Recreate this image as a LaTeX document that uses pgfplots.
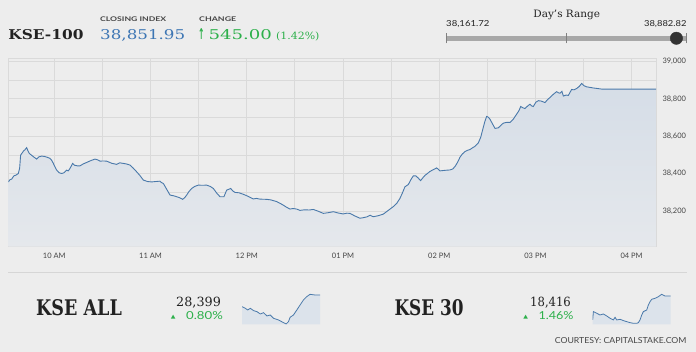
\documentclass[border=0pt]{standalone}
\usepackage{fontspec}
\usepackage{graphicx}
\usepackage{pgfplots}
\usepackage{pgfplotstable}
\pgfplotsset{compat=1.18}
\setmainfont{DejaVu Serif}
\newfontfamily\lato{Lato}
\newfontfamily\djs{DejaVu Sans}
\definecolor{bgc}{HTML}{EDEDED}
\definecolor{gridc}{HTML}{DADADA}
\definecolor{linec}{HTML}{4A79AA}
\definecolor{fillt}{HTML}{D5DDE7}
\definecolor{fillb}{HTML}{E5E8EC}
\definecolor{sparkf}{HTML}{DCE3EB}
\definecolor{blu}{HTML}{3D76B4}
\definecolor{grn}{HTML}{2DB04B}
\definecolor{txt}{HTML}{222222}
\definecolor{lbl}{HTML}{454545}
\definecolor{rangec}{HTML}{A8A8A8}
\definecolor{dotc}{HTML}{333333}
\definecolor{sepc}{HTML}{D6D6D6}

\pgfplotstableread{
t v
9.522 38356
9.540 38368
9.557 38371
9.581 38389
9.600 38392
9.626 38401
9.640 38430
9.650 38499
9.665 38510
9.678 38520
9.695 38528
9.713 38539
9.728 38520
9.741 38508
9.760 38500
9.790 38488
9.817 38478
9.840 38490
9.869 38494
9.900 38492
9.930 38487
9.955 38482
9.975 38470
9.990 38455
10.008 38435
10.025 38419
10.050 38405
10.077 38401
10.100 38405
10.129 38419
10.145 38415
10.163 38428
10.191 38455
10.210 38445
10.240 38442
10.267 38442
10.300 38452
10.336 38460
10.380 38470
10.423 38478
10.450 38474
10.475 38467
10.510 38468
10.544 38467
10.600 38455
10.648 38450
10.680 38458
10.717 38455
10.750 38452
10.787 38446
10.820 38430
10.856 38410
10.890 38390
10.925 38366
10.970 38358
11.012 38356
11.050 38358
11.098 38360
11.115 38352
11.133 38348
11.170 38315
11.202 38286
11.240 38282
11.272 38277
11.300 38272
11.334 38263
11.355 38272
11.376 38286
11.400 38305
11.428 38321
11.460 38332
11.497 38339
11.540 38338
11.583 38339
11.620 38332
11.653 38321
11.690 38295
11.722 38277
11.763 38277
11.791 38312
11.810 38316
11.833 38321
11.855 38308
11.878 38300
11.920 38298
11.964 38290
12.010 38280
12.068 38265
12.100 38268
12.140 38264
12.207 38263
12.250 38260
12.311 38251
12.370 38235
12.410 38222
12.449 38211
12.480 38214
12.519 38211
12.553 38204
12.600 38207
12.650 38206
12.692 38209
12.740 38200
12.796 38188
12.850 38192
12.900 38197
12.950 38190
13.003 38185
13.040 38189
13.073 38188
13.120 38175
13.177 38162
13.210 38165
13.246 38169
13.281 38178
13.315 38170
13.370 38176
13.419 38184
13.455 38198
13.489 38211
13.525 38225
13.558 38241
13.592 38268
13.620 38300
13.644 38330
13.679 38342
13.710 38372
13.731 38388
13.759 38388
13.785 38375
13.807 38363
13.830 38378
13.852 38391
13.880 38402
13.904 38412
13.940 38422
13.974 38431
14.008 38415
14.060 38418
14.112 38420
14.140 38425
14.164 38438
14.190 38460
14.216 38488
14.240 38505
14.268 38518
14.295 38525
14.320 38529
14.345 38538
14.372 38546
14.406 38564
14.431 38594
14.458 38647
14.475 38680
14.493 38706
14.510 38702
14.528 38691
14.555 38665
14.580 38642
14.614 38645
14.640 38658
14.666 38670
14.700 38674
14.736 38674
14.770 38691
14.805 38718
14.830 38738
14.847 38759
14.870 38752
14.891 38748
14.920 38762
14.943 38771
14.960 38762
14.978 38759
15.005 38782
15.030 38790
15.060 38788
15.099 38780
15.125 38795
15.151 38807
15.190 38826
15.220 38838
15.240 38832
15.255 38830
15.275 38840
15.290 38815
15.320 38820
15.342 38818
15.376 38850
15.400 38848
15.428 38855
15.455 38866
15.480 38882
15.505 38870
15.532 38864
15.600 38858
15.688 38852
16.253 38852
}\kse

\pgfplotstableread{
t v
9.52 28311.5
9.81 28299
10.01 28286.5
10.24 28299
10.52 28281.5
10.81 28274
11.10 28256.5
11.38 28266.5
11.67 28241.5
11.95 28249
12.24 28224
12.67 28211.5
13.10 28191.5
13.33 28181.5
13.53 28199
13.67 28231.5
13.96 28249
14.25 28286.5
14.53 28324
14.82 28361.5
15.10 28386.5
15.39 28404
15.82 28399
16.25 28399
}\kseall

\pgfplotstableread{
t v
9.52 18200
9.58 18275
9.87 18260
10.15 18245
10.44 18254
10.73 18236
11.02 18215
11.30 18200
11.45 18224
11.59 18200
11.88 18206
12.17 18194
12.45 18185
12.74 18176
13.03 18170
13.32 18170
13.46 18176
13.60 18200
13.75 18245
13.89 18275
14.18 18290
14.32 18335
14.47 18365
14.61 18386
14.90 18395
15.19 18410
15.47 18431
15.76 18416
16.25 18416
}\ksethirty

\begin{document}
\begin{tikzpicture}
\fill[bgc] (0pt,0pt) rectangle (696pt,-352pt);

% ---------- header ----------
\node[anchor=base west, inner sep=0, text=txt] at (8.3pt,-39.3pt) {\resizebox{75pt}{10pt}{\bfseries KSE-100}};
\node[anchor=base west, inner sep=0, text=lbl] at (100pt,-21.3pt) {\resizebox{66pt}{4.7pt}{\lato\bfseries CLOSING INDEX}};
\node[anchor=base west, inner sep=0, text=lbl] at (199pt,-21.3pt) {\resizebox{37pt}{4.7pt}{\lato\bfseries CHANGE}};
\node[anchor=base west, inner sep=0, text=blu] at (100pt,-39.3pt) {\resizebox{85pt}{10pt}{38,851.95}};
\node[anchor=base west, inner sep=0, text=grn] at (198pt,-39.3pt) {\resizebox{6.5pt}{11pt}{\djs\bfseries ↑}};
\node[anchor=base west, inner sep=0, text=grn] at (208.3pt,-39.3pt) {\resizebox{63.4pt}{10pt}{545.00}};
\node[anchor=base west, inner sep=0, text=grn] at (276pt,-39.3pt) {\resizebox{43.3pt}{7.6pt}{(1.42\%)}};

% Day's range
\node[anchor=base, inner sep=0, text=txt] at (566.7pt,-17.3pt) {\resizebox{66.7pt}{7.4pt}{Day's Range}};
\node[anchor=base west, inner sep=0, text=txt] at (446pt,-26.7pt) {\resizebox{43.3pt}{6pt}{\lato 38,161.72}};
\node[anchor=base east, inner sep=0, text=txt] at (686.7pt,-26.7pt) {\resizebox{42.4pt}{6pt}{\lato 38,882.82}};
\begin{axis}[at={(446pt,-43.3pt)}, anchor=south west, scale only axis, width=240.7pt, height=10.6pt,
  hide axis, clip=false, xmin=38161.72, xmax=38882.82, ymin=-1, ymax=1]
\addplot[rangec, line width=5.3pt] coordinates {(38161.72,-0.05) (38882.82,-0.05)};
\addplot[gray, line width=0.6pt] coordinates {(38161.72,-1) (38161.72,1)};
\addplot[gray, line width=0.6pt] coordinates {(38522.27,-1) (38522.27,1)};
\addplot[gray, line width=0.6pt] coordinates {(38882.82,-1) (38882.82,1)};
\addplot[only marks, mark=*, mark size=6.2pt, mark options={fill=dotc, draw=dotc}] coordinates {(38851.95,-0.05)};
\end{axis}

% ---------- main chart ----------
\begin{axis}[at={(8.3pt,-246.7pt)}, anchor=south west, scale only axis,
  width=647.7pt, height=188.7pt,
  xmin=9.522, xmax=16.253, ymin=38010, ymax=39018,
  axis line style={gridc, line width=0.8pt},
  grid=both,
  major grid style={gridc, line width=0.8pt},
  minor grid style={gridc, line width=0.8pt},
  xtick={10,11,12,13,14,15,16},
  xticklabels={10 AM,11 AM,12 PM,01 PM,02 PM,03 PM,04 PM},
  minor xtick={10.5,11.5,12.5,13.5,14.5,15.5},
  ytick={38200,38400,38600,38800,39000},
  minor ytick={38100,38300,38500,38700,38900},
  scaled y ticks=false,
  yticklabel pos=right,
  major tick length=0pt, minor tick length=0pt,
  tick label style={font=\lato\fontsize{7.5}{9}\selectfont, text=lbl},
  yticklabel style={anchor=west, xshift=3pt},
  xticklabel style={yshift=-2.5pt},
  /pgf/number format/1000 sep={,},
  /pgf/number format/assume math mode=true]
\addplot[draw=none, top color=fillt, bottom color=fillb] table[x=t,y=v] {\kse} \closedcycle;
\addplot[linec, line width=0.9pt] table[x=t,y=v] {\kse};
\end{axis}

% ---------- bottom ----------
\draw[sepc, line width=0.8pt] (8pt,-272.3pt) -- (687pt,-272.3pt);

\node[anchor=base west, inner sep=0, text=txt] at (36pt,-316pt) {\resizebox{85.7pt}{16pt}{\bfseries KSE ALL}};
\node[anchor=base west, inner sep=0, text=txt] at (176pt,-306.7pt) {\resizebox{44.7pt}{9.4pt}{28,399}};
\node[anchor=center, inner sep=0, text=grn] at (173.3pt,-317pt) {\resizebox{4.7pt}{3.4pt}{\djs ▲}};
\node[anchor=base west, inner sep=0, text=grn] at (186pt,-320pt) {\resizebox{36.7pt}{8pt}{\lato 0.80\%}};
\begin{axis}[at={(242pt,-324.3pt)}, anchor=south west, scale only axis, width=78pt, height=30.3pt,
  hide axis, xmin=9.52, xmax=16.25, ymin=28179, ymax=28406.5]
\addplot[draw=none, fill=sparkf] table[x=t,y=v] {\kseall} \closedcycle;
\addplot[linec, line width=0.8pt] table[x=t,y=v] {\kseall};
\end{axis}

\node[anchor=base west, inner sep=0, text=txt] at (394.3pt,-316pt) {\resizebox{69pt}{16pt}{\bfseries KSE 30}};
\node[anchor=base west, inner sep=0, text=txt] at (530pt,-306.7pt) {\resizebox{40.7pt}{9.4pt}{18,416}};
\node[anchor=center, inner sep=0, text=grn] at (525.8pt,-317pt) {\resizebox{4.7pt}{3.4pt}{\djs ▲}};
\node[anchor=base west, inner sep=0, text=grn] at (538.3pt,-320pt) {\resizebox{35pt}{8pt}{\lato 1.46\%}};
\begin{axis}[at={(592.7pt,-324.3pt)}, anchor=south west, scale only axis, width=78pt, height=31pt,
  hide axis, xmin=9.52, xmax=16.25, ymin=18161, ymax=18440]
\addplot[draw=none, fill=sparkf] table[x=t,y=v] {\ksethirty} \closedcycle;
\addplot[linec, line width=0.8pt] table[x=t,y=v] {\ksethirty};
\end{axis}

\node[anchor=base east, inner sep=0, text=lbl] at (686.7pt,-343.3pt) {\resizebox{131.7pt}{6pt}{\lato COURTESY: CAPITALSTAKE.COM}};
\end{tikzpicture}
\end{document}
